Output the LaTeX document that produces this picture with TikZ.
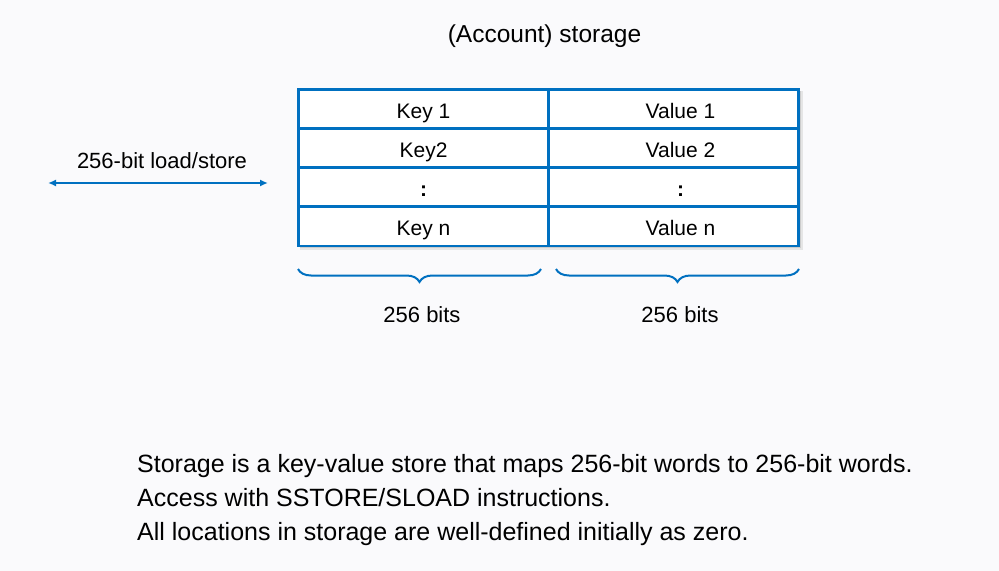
\documentclass[tikz,border=0pt]{standalone}
\usepackage{fontspec}
\setmainfont{Liberation Sans}
\usepackage{tikz}
\usetikzlibrary{arrows.meta}
\usetikzlibrary{decorations.pathreplacing}
\usepackage{xcolor}
\definecolor{tblue}{RGB}{0,112,192}
\definecolor{bgpaper}{RGB}{250,250,252}

\tikzset{
  cell/.style={draw=tblue, line width=2.5bp, fill=white, minimum width=250bp,
    minimum height=39bp, inner sep=0pt, text height=18.7bp, text depth=0pt,
    font=\fontsize{21bp}{25bp}\selectfont},
  vcell/.style={cell, execute at begin node={\hspace*{14bp}}},
  lbl/.style={font=\fontsize{22bp}{26bp}\selectfont},
  note/.style={anchor=base west, inner sep=0pt, font=\fontsize{25bp}{30bp}\selectfont},
  brc/.style={draw=tblue, line width=2bp,
    decorate, decoration={brace, mirror, amplitude=13bp}},
}

\begin{document}
\begin{tikzpicture}[x=1bp,y=-1bp]
\fill [bgpaper] (0,0) rectangle (999,571);
\useasboundingbox (0,0) rectangle (999,571);
\node [anchor=base, font=\fontsize{24.5bp}{29bp}\selectfont] (title) at (544.5,43) {(Account) storage};
% table shadow
\fill [black!10] (300,91) rectangle (803,250);
\fill [black!20] (300,91) rectangle (801,248);
\node [cell] (k1) at (423.5,109) {Key 1};
\node [vcell] (v1) at (673.5,109) {Value 1};
\node [cell] (k2) at (423.5,148) {Key2};
\node [vcell] (v2) at (673.5,148) {Value 2};
\node [cell] (k3) at (423.5,187.2) {\textbf{:}};
\node [vcell] (v3) at (673.5,187.2) {\textbf{:}};
\node [cell] (kn) at (423.5,226.4) {Key n};
\node [vcell] (vn) at (673.5,226.4) {Value n};
% load/store arrow
\coordinate (ldl) at (48,183);
\coordinate (ldr) at (268,183);
\draw [tblue, line width=1.6bp, {Latex[length=8bp,width=7bp]}-{Latex[length=8bp,width=7bp]}] (ldl) -- (ldr);
\node [lbl] (ldtext) at (162,161) {256-bit load/store};
% braces
\coordinate (bk1) at (298,269);
\coordinate (bk2) at (541,269);
\coordinate (bv1) at (556,269);
\coordinate (bv2) at (799,269);
\draw [brc] (bk1) -- (bk2);
\draw [brc] (bv1) -- (bv2);
\node [lbl] (kbits) at (422,315) {256 bits};
\node [lbl] (vbits) at (680,315) {256 bits};
% notes
\node [note] (n1) at (137,472) {Storage is a key-value store that maps 256-bit words to 256-bit words.};
\node [note] (n2) at (137,506) {Access with SSTORE/SLOAD instructions.};
\node [note] (n3) at (137,540) {All locations in storage are well-defined initially as zero.};
\end{tikzpicture}
\end{document}
